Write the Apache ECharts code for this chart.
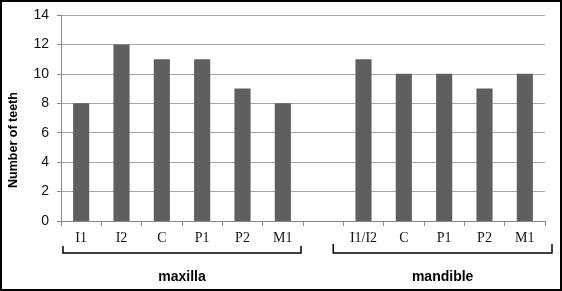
<!DOCTYPE html>
<html><head><meta charset="utf-8">
<script src="https://cdn.jsdelivr.net/npm/echarts@6/dist/echarts.min.js"></script>
<style>html,body{margin:0;padding:0;background:#fff}#c{width:562px;height:291px}</style>
</head><body><div id="c"></div>
<script>
const categories = ['I1','I2','C','P1','P2','M1','','I1/I2','C ','P1 ','P2 ','M1 '];
const teethCounts = [8,12,11,11,9,8,null,11,10,10,9,10];
const yTicks = {min:0, max:14, interval:2};
const yTitle = 'Number of teeth';
const groups = [{name:'maxilla', from:0, to:5}, {name:'mandible', from:6, to:11}];

const chart = echarts.init(document.getElementById('c'), null, {renderer:'canvas'});
chart.setOption({
  animation:false,
  grid:{left:61, right:17, top:15, bottom:70},
  xAxis:{type:'category', data:categories,
    axisLine:{lineStyle:{color:'#888', width:1}},
    axisTick:{show:true, length:5, lineStyle:{color:'#888'}},
    axisLabel:{interval:0, margin:10, fontFamily:'Liberation Serif', fontSize:14, color:'#111',
      formatter:v=>v.trim()}},
  yAxis:{type:'value', min:yTicks.min, max:yTicks.max, interval:yTicks.interval,
    axisLine:{show:true, lineStyle:{color:'#888'}},
    axisTick:{show:true, length:4, lineStyle:{color:'#888'}},
    axisLabel:{margin:12, fontFamily:'Liberation Sans', fontSize:14, color:'#111'},
    splitLine:{lineStyle:{color:'#a6a6a6', width:1}}},
  series:[{type:'bar', data:teethCounts, barWidth:'40%', itemStyle:{color:'#5f5f5f'}}]
});

function drawDecor(){
  const c0 = chart.convertToPixel({xAxisIndex:0}, categories[0]);
  const c1 = chart.convertToPixel({xAxisIndex:0}, categories[1]);
  const band = c1 - c0;
  const els = [
    {type:'rect', shape:{x:1,y:1,width:560,height:289}, style:{fill:null, stroke:'#000', lineWidth:2}, silent:true},
    {type:'text', x:14, y:140, rotation:Math.PI/2, style:{text:yTitle, fontFamily:'Liberation Sans',
      fontWeight:'bold', fontSize:12.5, fill:'#000', align:'center', verticalAlign:'middle'}, silent:true}
  ];
  const specs = [
    {g:groups[0], top:246, bot:253},
    {g:groups[1], top:244, bot:253}
  ];
  specs.forEach(s=>{
    const left = s.g.from===0 ? c0 - 0.5*band + 2 : c0 + (s.g.from - 0.5 + 0.75)*band;
    const right = s.g.from===0 ? c0 + (s.g.to + 0.5)*band - 2 : c0 + (s.g.to + 0.5)*band + 7;
    els.push({type:'polyline', shape:{points:[[left,s.top],[left,s.bot],[right,s.bot],[right,s.top]]},
      style:{stroke:'#000', lineWidth:1.5, fill:null}, silent:true});
    els.push({type:'text', x:(left+right)/2, y:277, style:{text:s.g.name, fontFamily:'Liberation Sans',
      fontWeight:'bold', fontSize:14, fill:'#000', align:'center', verticalAlign:'middle'}, silent:true});
  });
  chart.setOption({graphic:{elements:els}});
}
drawDecor();
</script></body></html>
